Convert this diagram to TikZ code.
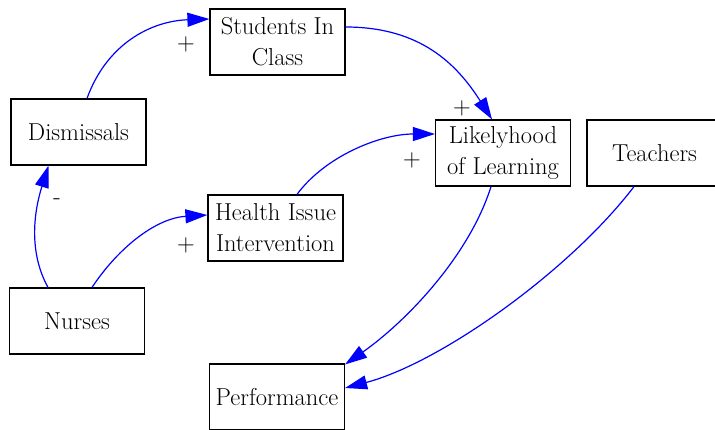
\documentclass[tikz,border=0pt]{standalone}
\usepackage{fontspec}
\usetikzlibrary{calc}
\usetikzlibrary{arrows.meta}

\tikzset{
  factor/.style={draw, line width=1.2pt, rectangle, minimum width=135pt, minimum height=66pt,
    inner sep=0pt, align=center, font=\rmfamily\fontsize{24.5}{31}\selectfont},
  link/.style={-{Triangle[length=22pt, width=14pt]}, blue, line width=1.2pt},
  sign/.style={font=\rmfamily\fontsize{24.5}{31}\selectfont, inner sep=0pt}
}

\begin{document}
\begin{tikzpicture}[x=1pt, y=-1pt]
            \useasboundingbox (0,0) rectangle (715,429);

            % factors
            \node[factor] (sic)  at (277.5,42)  {Students In\\Class};
            \node[factor] (dis)  at (78.5,132)  {Dismissals};
            \node[factor] (lol)  at (503,153)   {Likelyhood\\of Learning};
            \node[factor] (tea)  at (654.5,153) {Teachers};
            \node[factor] (hii)  at (275.5,228) {Health Issue\\Intervention};
            \node[factor] (nur)  at (77,321)    {Nurses};
            \node[factor] (perf) at (277,397)   {Performance};

            % links
            \draw[link] ($(dis.north)+(8.5,0)$) .. controls +(20,-55) and +(-58,2) .. ($(sic.west)+(0,-23)$);
            \draw[link] ($(sic.east)+(0,-15)$) .. controls +(75,0) and +(-35,-55) .. ($(lol.north)+(-11,0)$);
            \draw[link] ($(hii.north)+(21.5,0)$) .. controls +(28,-38) and +(-55,0) .. ($(lol.west)+(0,-19)$);
            \draw[link] ($(nur.north)+(-29,0)$) .. controls +(-22,-40) and +(-12,38) .. ($(dis.south)+(-30,0)$);
            \draw[link] ($(nur.north)+(15,0)$) .. controls +(28,-42) and +(-50,3) .. ($(hii.west)+(0,-13)$);
            \draw[link] ($(lol.south)+(-12,0)$) .. controls +(-22,70) and +(60,-42) .. ($(perf.north east)+(0,1)$);
            \draw[link] ($(tea.south)+(-20.5,0)$) .. controls +(-65,85) and +(95,-25) .. ($(perf.east)+(0,-9)$);

            % signs
            \node[sign] (s1) at (186,44)  {+};
            \node[sign] (s2) at (462,108) {+};
            \node[sign] (s3) at (412,160) {+};
            \node[sign] (s4) at (57,202)  {-};
            \node[sign] (s5) at (186,245) {+};
\end{tikzpicture}
\end{document}
